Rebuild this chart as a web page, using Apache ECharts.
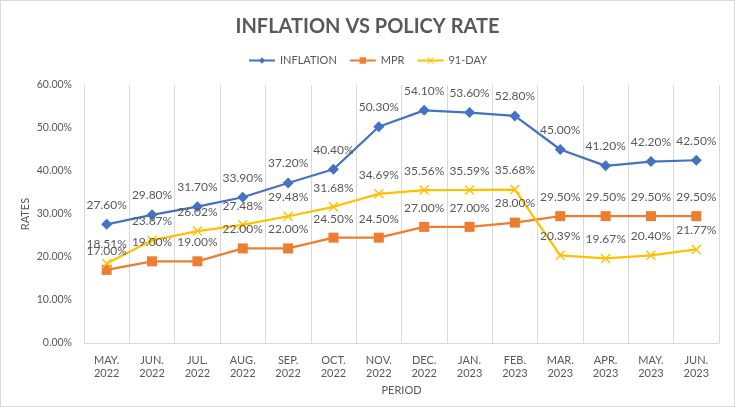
<!DOCTYPE html>
<html>
<head>
<meta charset="utf-8">
<script src="https://cdn.jsdelivr.net/npm/echarts@6/dist/echarts.min.js"></script>
<style>
  html, body { margin: 0; padding: 0; background: #fff; }
  #chart { width: 733px; height: 405px; border: 1px solid #d9d9d9; }
</style>
</head>
<body>
<div id="chart"></div>
<script>
var periods = ['MAY.\n2022', 'JUN.\n2022', 'JUL.\n2022', 'AUG.\n2022', 'SEP.\n2022', 'OCT.\n2022', 'NOV.\n2022',
  'DEC.\n2022', 'JAN.\n2023', 'FEB.\n2023', 'MAR.\n2023', 'APR.\n2023', 'MAY.\n2023', 'JUN.\n2023'];
var inflation = [27.6, 29.8, 31.7, 33.9, 37.2, 40.4, 50.3, 54.1, 53.6, 52.8, 45.0, 41.2, 42.2, 42.5];
var mpr = [17.0, 19.0, 19.0, 22.0, 22.0, 24.5, 24.5, 27.0, 27.0, 28.0, 29.5, 29.5, 29.5, 29.5];
var tbill91 = [18.51, 23.87, 26.02, 27.48, 29.48, 31.68, 34.69, 35.56, 35.59, 35.68, 20.39, 19.67, 20.40, 21.77];

var textColor = '#595959';
var fontName = 'Lato';

// X shaped marker like Excel
var xMark = 'path://M0,1L1,0L5,4L9,0L10,1L6,5L10,9L9,10L5,6L1,10L0,9L4,5Z';

function makeSeries(name, values, color, symbol, size) {
    return {
        name: name,
        type: 'line',
        data: values,
        symbol: symbol,
        symbolSize: size,
        showAllSymbol: true,
        lineStyle: { color: color, width: 2.25 },
        itemStyle: { color: color },
        label: {
            show: true,
            position: 'top',
            distance: 8,
            color: textColor,
            fontFamily: fontName,
            fontSize: 12,
            formatter: function (p) { return p.value.toFixed(2) + '%'; }
        }
    };
}

var myChart = echarts.init(document.getElementById('chart'));

var option = {
    animation: false,
    title: {
        text: 'INFLATION VS POLICY RATE',
        left: 'center',
        top: 11,
        textStyle: { color: textColor, fontFamily: fontName, fontSize: 20, fontWeight: 'bold' }
    },
    legend: {
        top: 49,
        left: 'center',
        itemWidth: 26,
        itemHeight: 8,
        itemGap: 12,
        textStyle: { color: textColor, fontFamily: fontName, fontSize: 11 },
        data: ['INFLATION', 'MPR', '91-DAY']
    },
    grid: { left: 83, right: 15, top: 84, bottom: 63 },
    xAxis: {
        type: 'category',
        data: periods,
        boundaryGap: true,
        name: 'PERIOD',
        nameLocation: 'middle',
        nameGap: 37,
        nameTextStyle: { color: textColor, fontFamily: fontName, fontSize: 11 },
        axisLine: { lineStyle: { color: '#d9d9d9' } },
        axisTick: { show: false },
        splitLine: { show: true, lineStyle: { color: '#d9d9d9' } },
        axisLabel: { color: textColor, fontFamily: fontName, fontSize: 11, lineHeight: 13, margin: 11, interval: 0 }
    },
    yAxis: {
        type: 'value',
        min: 0,
        max: 60,
        interval: 10,
        name: 'RATES',
        nameLocation: 'middle',
        nameGap: 53,
        nameMoveOverlap: false,
        nameTextStyle: { color: textColor, fontFamily: fontName, fontSize: 11 },
        axisLine: { show: false },
        axisTick: { show: false },
        splitLine: { show: false },
        axisLabel: {
            color: textColor, fontFamily: fontName, fontSize: 10.5, margin: 12,
            formatter: function (v) { return v.toFixed(2) + '%'; }
        }
    },
    series: [
        makeSeries('INFLATION', inflation, '#4472C4', 'diamond', 11),
        makeSeries('MPR', mpr, '#ED7D31', 'rect', 10),
        makeSeries('91-DAY', tbill91, '#FFC000', xMark, 10)
    ]
};

myChart.setOption(option);
</script>
</body>
</html>
